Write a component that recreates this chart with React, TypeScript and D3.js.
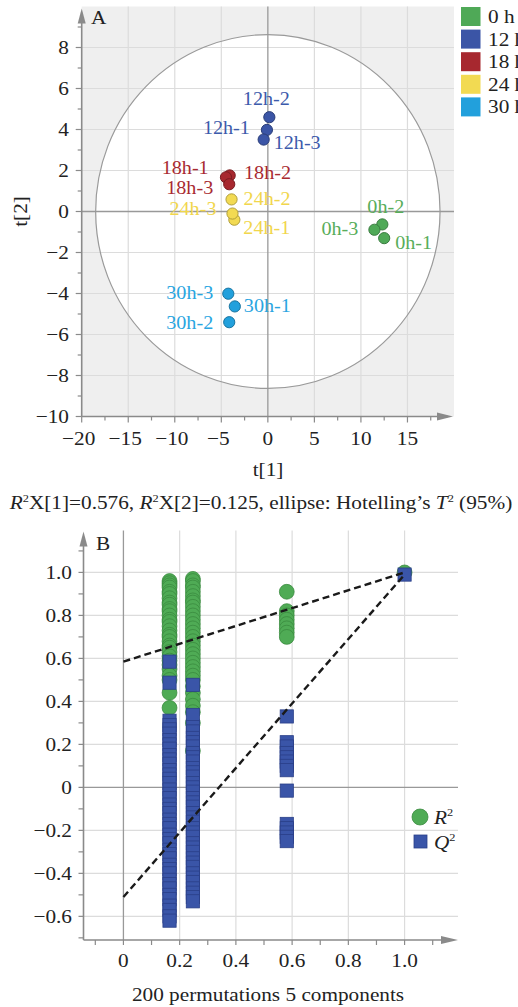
import React, { useEffect } from 'react';
import * as d3 from 'd3';

// ---- panel A: PCA scores ----
const groups = ['0 h', '12 h', '18 h', '24 h', '30 h'];
const groupColors = ['#4fa957', '#3b55a6', '#a7282f', '#f2da52', '#22a0dc'];
const labelColors = ['#58ad5a', '#3c5aab', '#a82a31', '#f1d64c', '#29a5e1'];

const sampleNames = ['0h-1', '0h-2', '0h-3', '12h-1', '12h-2', '12h-3', '18h-1', '18h-2', '18h-3', '24h-1', '24h-2', '24h-3', '30h-1', '30h-2', '30h-3'];
const sampleGroup = [0, 0, 0, 1, 1, 1, 2, 2, 2, 3, 3, 3, 4, 4, 4];
const t1 = [12.5, 12.3, 11.45, -0.1, 0.16, -0.45, -4.1, -4.5, -4.15, -3.6, -3.9, -3.8, -3.55, -4.15, -4.25];
const t2 = [-1.3, -0.63, -0.89, 3.98, 4.6, 3.51, 1.76, 1.67, 1.33, -0.4, 0.59, -0.1, -4.63, -5.4, -4.01];

const ellipseT1 = 18.5;
const ellipseT2 = 8.63;

const xTicksA = [-20, -15, -10, -5, 0, 5, 10, 15];
const yTicksA = [-10, -8, -6, -4, -2, 0, 2, 4, 6, 8];

// label placement (px offset from the point, anchor)
const labelPos: Record<string, [number, number, string]> = {
  '0h-1': [11, 11, 'start'],
  '0h-2': [-15, -11, 'start'],
  '0h-3': [-16, 5, 'end'],
  '12h-1': [-17, 4, 'end'],
  '12h-2': [-3, -12, 'middle'],
  '12h-3': [10, 9, 'start'],
  '18h-1': [-21, -1, 'end'],
  '18h-2': [18, 2, 'start'],
  '18h-3': [-16, 10, 'end'],
  '24h-1': [9, 14, 'start'],
  '24h-2': [12, 6, 'start'],
  '24h-3': [-16, 1, 'end'],
  '30h-1': [9, 6, 'start'],
  '30h-2': [-16, 7, 'end'],
  '30h-3': [-15, 5, 'end'],
};

// ---- panel B: permutation test ----
const permCorr = [0.164, 0.247, 0.581];
const r2Perm = [
  [0.96, 0.95, 0.94, 0.93, 0.91, 0.9, 0.88, 0.86, 0.85, 0.83, 0.82, 0.8, 0.78, 0.77, 0.75, 0.73, 0.71, 0.7, 0.68, 0.66, 0.65, 0.63, 0.61, 0.59, 0.57, 0.55, 0.52, 0.5, 0.44, 0.37],
  [0.97, 0.96, 0.94, 0.93, 0.91, 0.89, 0.87, 0.86, 0.84, 0.82, 0.8, 0.78, 0.76, 0.74, 0.72, 0.7, 0.68, 0.66, 0.64, 0.62, 0.6, 0.58, 0.56, 0.54, 0.52, 0.5, 0.47, 0.44, 0.41, 0.38, 0.35, 0.3, 0.17],
  [0.91, 0.82, 0.8, 0.78, 0.76, 0.74, 0.72, 0.7],
];
const q2Perm = [
  [0.585, 0.487, 0.31, 0.29, 0.27, 0.25, 0.22, 0.2, 0.18, 0.15, 0.13, 0.11, 0.08, 0.06, 0.04, 0.02, -0.01, -0.03, -0.05, -0.08, -0.1, -0.12, -0.15, -0.17, -0.19, -0.22, -0.24, -0.26, -0.29, -0.31, -0.33, -0.36, -0.38, -0.4, -0.43, -0.45, -0.47, -0.5, -0.52, -0.55, -0.57, -0.6, -0.62],
  [0.477, 0.337, 0.28, 0.26, 0.23, 0.21, 0.19, 0.16, 0.14, 0.12, 0.09, 0.07, 0.05, 0.02, 0.0, -0.02, -0.05, -0.07, -0.09, -0.12, -0.14, -0.16, -0.19, -0.21, -0.23, -0.26, -0.28, -0.3, -0.33, -0.35, -0.37, -0.4, -0.42, -0.44, -0.47, -0.49, -0.51, -0.53],
  [0.33, 0.21, 0.19, 0.16, 0.14, 0.12, 0.1, 0.08, -0.015, -0.17, -0.19, -0.21, -0.23, -0.25],
];
const origCorr = 1.0;
const origR2 = 1.0;
const origQ2 = 0.99;
const r2Intercept = 0.585;
const q2Intercept = -0.51;

const xTicksB = [0, 0.2, 0.4, 0.6, 0.8, 1.0];
const yTicksB = [-0.6, -0.4, -0.2, 0, 0.2, 0.4, 0.6, 0.8, 1.0];

const FONT = '"Liberation Serif", "Times New Roman", serif';
const AXIS = '#8a8a8a';
const GRID = '#dcdcdc';
const SX = 1.12; // the source typeface runs wider than Times

const fmtA = (v: number) => (v < 0 ? '\u2212' + Math.abs(v) : String(v));
const fmtB = (v: number) => {
  if (v === 0) return '0';
  const s = Math.abs(v).toFixed(1);
  return v < 0 ? '\u2212' + s : s;
};

type TProps = { x: number; y: number; anchor?: string; size?: number; fill?: string; rotate?: number; italic?: boolean; children?: React.ReactNode };
function T({ x, y, anchor = 'start', size = 19, fill = '#222', rotate = 0, italic, children }: TProps) {
  return (
    <text transform={`translate(${x},${y})${rotate ? ` rotate(${rotate})` : ''} scale(${SX},1)`}
      textAnchor={anchor} fontSize={size} fill={fill} fontStyle={italic ? 'italic' : undefined}>
      {children}
    </text>
  );
}

function PanelA() {
  const x = d3.scaleLinear().domain([-20, 20]).range([81.7, 454]);
  const y = d3.scaleLinear().domain([-10, 10]).range([416.5, 6.5]);
  const [x0, x1] = x.range();
  const [y0, y1] = y.range();
  const minorX = d3.range(-20, 20, 2.5);
  const minorY = d3.range(-10, 10, 1);
  return (
    <g>
      <rect x={x0} y={y1} width={x1 - x0} height={y0 - y1} fill="#efefef" />
      <ellipse cx={x(0)} cy={y(0)} rx={x(ellipseT1) - x(0)} ry={y(0) - y(ellipseT2)} fill="#fff" />
      {xTicksA.filter(v => v !== -20 && v !== 0).map(v => (
        <line key={'gx' + v} x1={x(v)} x2={x(v)} y1={y1} y2={y0} stroke={GRID} strokeWidth={1.2} />
      ))}
      {yTicksA.filter(v => v !== -10 && v !== 0).map(v => (
        <line key={'gy' + v} x1={x0} x2={x1} y1={y(v)} y2={y(v)} stroke={GRID} strokeWidth={1.2} />
      ))}
      <ellipse cx={x(0)} cy={y(0)} rx={x(ellipseT1) - x(0)} ry={y(0) - y(ellipseT2)} fill="none" stroke="#9a9a9a" strokeWidth={1.2} />
      <line x1={x(0)} x2={x(0)} y1={y1} y2={y0} stroke="#999" strokeWidth={1.3} />
      <line x1={x0} x2={x1} y1={y(0)} y2={y(0)} stroke="#999" strokeWidth={1.3} />
      {/* axes */}
      <line x1={x0} x2={x0} y1={y0} y2={y1 + 6} stroke={AXIS} strokeWidth={1.6} />
      <path d={`M${x0 - 4},${y1 + 17} L${x0},${y1 + 2} L${x0 + 4},${y1 + 17} Z`} fill={AXIS} />
      <line x1={x0} x2={x1 - 6} y1={y0} y2={y0} stroke={AXIS} strokeWidth={1.6} />
      <path d={`M${x1 - 17},${y0 - 4} L${x1 - 1},${y0} L${x1 - 17},${y0 + 4} Z`} fill={AXIS} />
      {minorY.map(v => (
        <line key={'ty' + v} x1={x0 - (v % 2 === 0 ? 6 : 4)} x2={x0} y1={y(v)} y2={y(v)} stroke={AXIS} strokeWidth={1.2} />
      ))}
      {minorX.map(v => (
        <line key={'tx' + v} x1={x(v)} x2={x(v)} y1={y0} y2={y0 + (v % 5 === 0 ? 6 : 4)} stroke={AXIS} strokeWidth={1.2} />
      ))}
      {yTicksA.map(v => (
        <T key={'ly' + v} x={69} y={y(v) + 6.5} anchor="end">{fmtA(v)}</T>
      ))}
      {xTicksA.map(v => (
        <T key={'lx' + v} x={x(v) - (v < 0 ? 3 : 0)} y={445} anchor="middle">{fmtA(v)}</T>
      ))}
      <T x={91} y={24}>A</T>
      <T x={27} y={y(0)} anchor="middle" rotate={-90}>t[2]</T>
      <T x={268} y={476} anchor="middle">t[1]</T>
      {/* points */}
      {sampleNames.map((s, i) => (
        <circle key={s} cx={x(t1[i])} cy={y(t2[i])} r={5.6}
          fill={groupColors[sampleGroup[i]]} stroke={d3.color(groupColors[sampleGroup[i]])!.darker(0.9).formatHex()} strokeWidth={1} />
      ))}
      {sampleNames.map((s, i) => {
        const [dx, dy, anchor] = labelPos[s];
        return (
          <T key={'l' + s} x={x(t1[i]) + dx} y={y(t2[i]) + dy} anchor={anchor} size={18}
            fill={labelColors[sampleGroup[i]]}>{s}</T>
        );
      })}
      {/* legend */}
      {groups.map((g, i) => (
        <g key={g} transform={`translate(461,${7 + i * 22.6})`}>
          <rect width={19.5} height={19} fill={groupColors[i]} />
          <T x={27} y={16} size={19}>{g}</T>
        </g>
      ))}
    </g>
  );
}

function Caption() {
  return (
    <T x={261} y={509} anchor="middle" size={19}>
      <tspan fontStyle="italic">R</tspan><tspan fontSize={11} dy={-7}>2</tspan>
      <tspan dy={7}>X[1]=0.576, </tspan>
      <tspan fontStyle="italic">R</tspan><tspan fontSize={11} dy={-7}>2</tspan>
      <tspan dy={7}>X[2]=0.125, ellipse: Hotelling’s </tspan>
      <tspan fontStyle="italic">T</tspan><tspan fontSize={11} dy={-7}>2</tspan>
      <tspan dy={7}> (95%)</tspan>
    </T>
  );
}

function PanelB() {
  const x = d3.scaleLinear().domain([-0.142, 1.19]).range([83.5, 458]);
  const y = d3.scaleLinear().domain([-0.71, 1.195]).range([940, 530.5]);
  const [x0, x1] = x.range();
  const [y0, y1] = y.range();
  const minorX = d3.range(-1, 12).map(k => k / 10);
  const minorY = d3.range(-7, 12).map(k => k / 10);
  const green = '#4fab55';
  const greenStroke = '#3a8a3f';
  const blue = '#3a55a8';
  const blueStroke = '#2a3f88';
  const line = d3.line<[number, number]>().x(d => x(d[0])).y(d => y(d[1]));
  return (
    <g>
      {xTicksB.filter(v => v !== 0).map(v => (
        <line key={'gx' + v} x1={x(v)} x2={x(v)} y1={y1} y2={y0} stroke={GRID} strokeWidth={1.2} />
      ))}
      {yTicksB.filter(v => v !== 0).map(v => (
        <line key={'gy' + v} x1={x0} x2={x1} y1={y(v)} y2={y(v)} stroke={GRID} strokeWidth={1.2} />
      ))}
      <line x1={x(0)} x2={x(0)} y1={y1} y2={y0} stroke="#999" strokeWidth={1.3} />
      <line x1={x0} x2={x1} y1={y(0)} y2={y(0)} stroke="#999" strokeWidth={1.3} />
      <line x1={x0} x2={x0} y1={y0} y2={y1 + 6} stroke={AXIS} strokeWidth={1.6} />
      <path d={`M${x0 - 4},${y1 + 16} L${x0},${y1 + 1} L${x0 + 4},${y1 + 16} Z`} fill={AXIS} />
      <line x1={x0} x2={x1 - 6} y1={y0} y2={y0} stroke={AXIS} strokeWidth={1.6} />
      <path d={`M${x1 - 17},${y0 - 4} L${x1},${y0} L${x1 - 17},${y0 + 4} Z`} fill={AXIS} />
      {minorY.map(v => (
        <line key={'ty' + v} x1={x0 - 5} x2={x0} y1={y(v)} y2={y(v)} stroke={AXIS} strokeWidth={1.2} />
      ))}
      {minorX.map(v => (
        <line key={'tx' + v} x1={x(v)} x2={x(v)} y1={y0} y2={y0 + 5} stroke={AXIS} strokeWidth={1.2} />
      ))}
      {yTicksB.map(v => (
        <T key={'ly' + v} x={72} y={y(v) + 6.5} anchor="end">{fmtB(v)}</T>
      ))}
      {xTicksB.map(v => (
        <T key={'lx' + v} x={x(v)} y={967} anchor="middle">{fmtB(v)}</T>
      ))}
      <T x={96} y={550}>B</T>
      <T x={268} y={1001} anchor="middle">200 permutations 5 components</T>
      {/* R2 circles */}
      {permCorr.map((c, ci) => r2Perm[ci].map((v, i) => (
        <circle key={`r${ci}-${i}`} cx={x(c)} cy={y(v)} r={7.4} fill={green} stroke={greenStroke} strokeWidth={0.8} />
      )))}
      <circle cx={x(origCorr)} cy={y(origR2)} r={7.4} fill={green} stroke={greenStroke} strokeWidth={0.8} />
      {/* Q2 squares */}
      {permCorr.map((c, ci) => q2Perm[ci].map((v, i) => (
        <rect key={`q${ci}-${i}`} x={x(c) - 6.6} y={y(v) - 6.6} width={13.2} height={13.2} fill={blue} stroke={blueStroke} strokeWidth={0.8} />
      )))}
      <rect x={x(origCorr) - 6.6} y={y(origQ2) - 6.6} width={13.2} height={13.2} fill={blue} stroke={blueStroke} strokeWidth={0.8} />
      {/* regression lines */}
      <path d={line([[0, r2Intercept], [origCorr, origR2]])!} fill="none" stroke="#1a1a1a" strokeWidth={2.4} strokeDasharray="7,4" />
      <path d={line([[0, q2Intercept], [origCorr, origQ2]])!} fill="none" stroke="#1a1a1a" strokeWidth={2.4} strokeDasharray="7,4" />
      {/* legend */}
      <circle cx={420} cy={817} r={8} fill={green} stroke={greenStroke} strokeWidth={0.8} />
      <T x={434} y={824} size={19} italic>R<tspan fontSize={11} fontStyle="normal" dy={-8}>2</tspan></T>
      <rect x={414} y={835} width={13} height={13} fill={blue} stroke={blueStroke} strokeWidth={0.8} />
      <T x={434} y={849} size={19} italic>Q<tspan fontSize={11} fontStyle="normal" dy={-8}>2</tspan></T>
    </g>
  );
}

export default function App() {
  useEffect(() => {
    document.body.style.margin = '0';
    document.body.style.overflow = 'hidden';
  }, []);
  return (
    <svg width={518} height={1007} style={{ position: 'absolute', left: 0, top: 0, background: '#fff' }} fontFamily={FONT}>
      <PanelA />
      <Caption />
      <PanelB />
    </svg>
  );
}
